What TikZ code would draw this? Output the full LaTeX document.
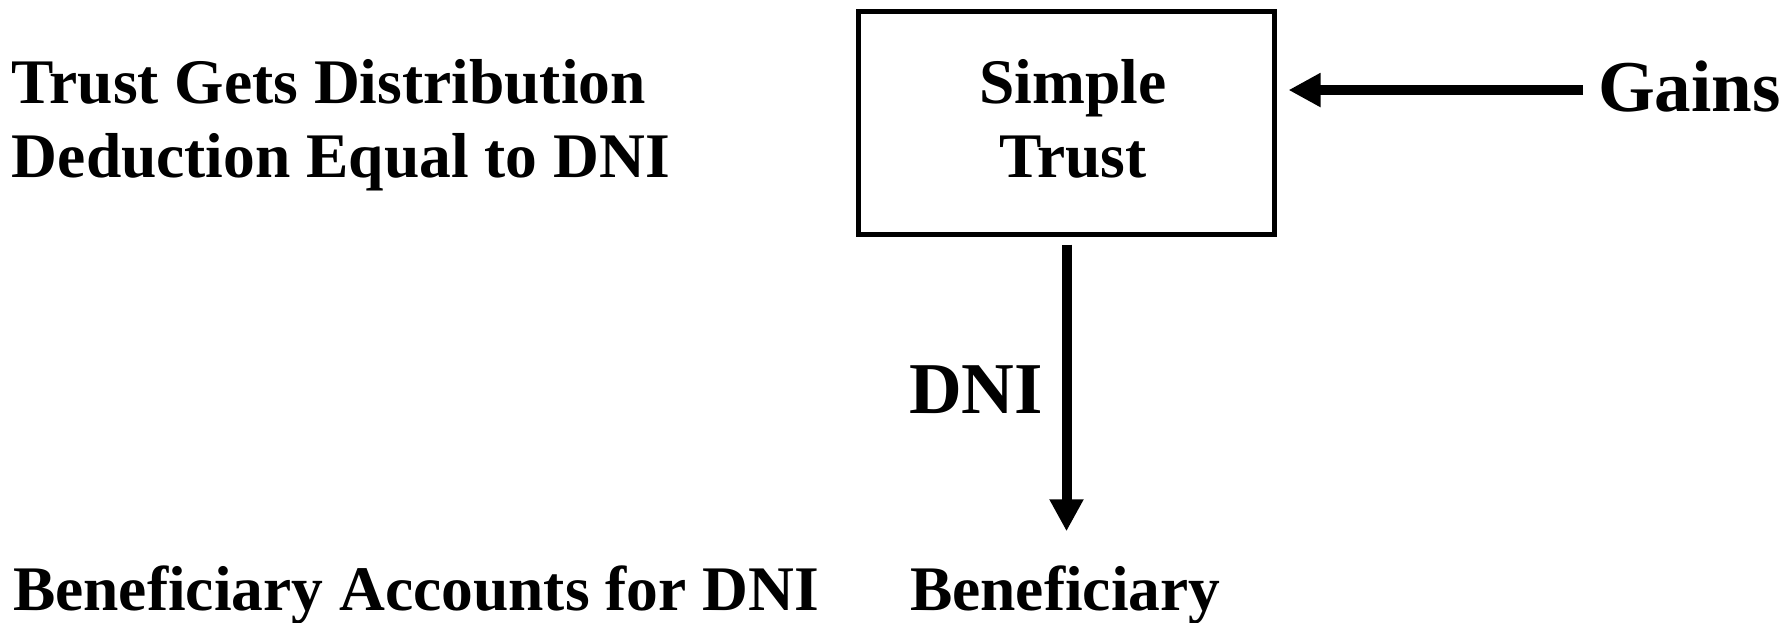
\documentclass[tikz,border=0pt]{standalone}
\usepackage{fontspec}
\setmainfont{Liberation Serif}
\usetikzlibrary{arrows.meta}
\begin{document}
\begin{tikzpicture}[x=1pt,y=-1pt,
  lbl/.style={inner sep=0pt,outer sep=0pt,font=\fontsize{63.5}{74}\selectfont\bfseries,align=left},
  biglbl/.style={inner sep=0pt,outer sep=0pt,font=\fontsize{73}{84}\selectfont\bfseries},
  trustbox/.style={draw,line width=5pt,minimum width=416pt,minimum height=223pt,inner sep=0pt},
  arr/.style={line width=10pt,-{Triangle[length=32pt,width=32pt]}}]
\useasboundingbox (0,0) rectangle (1788,622);
\node[trustbox] (box) at (1066.5,123) {};
\node[lbl,align=center,anchor=base] (trusttext) at (1073,177) {Simple\\Trust};
\node[lbl,anchor=base west] (deduct) at (12,177) {Trust Gets Distribution\\Deduction Equal to DNI};
\node[lbl,anchor=base west] (accounts) at (13,610) {Beneficiary Accounts for DNI};
\node[lbl,anchor=base west] (benef) at (910,610) {Beneficiary};
\node[biglbl,anchor=base west] (gains) at (1598,111) {Gains};
\node[biglbl,anchor=base west] (dni) at (909,413) {DNI};
\draw[arr,shorten <=15pt,shorten >=11.5pt] ([yshift=-4pt]gains.west) -- ([yshift=-4pt]gains.west -| box.east);
\draw[arr,shorten <=7.5pt,shorten >=34pt] (box.south) -- (box.south |- benef.north);
\end{tikzpicture}
\end{document}
